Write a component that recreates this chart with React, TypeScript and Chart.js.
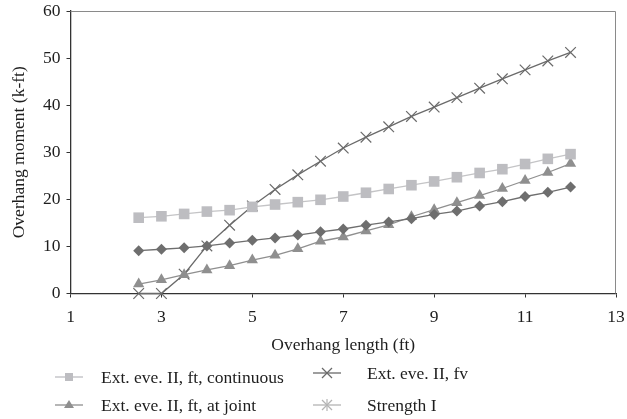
import React, { useEffect, useRef } from "react";
import { Chart, registerables } from "chart.js";

Chart.register(...registerables);

const overhangLength = [2.5, 3, 3.5, 4, 4.5, 5, 5.5, 6, 6.5, 7, 7.5, 8, 8.5, 9, 9.5, 10, 10.5, 11, 11.5, 12];
const continuousMoment = [16.1, 16.4, 16.9, 17.4, 17.7, 18.4, 18.9, 19.4, 19.9, 20.6, 21.4, 22.2, 23.0, 23.8, 24.7, 25.6, 26.4, 27.5, 28.6, 29.6];
const atJointMoment = [2.0, 2.9, 4.0, 5.0, 5.9, 7.1, 8.1, 9.5, 11.1, 12.0, 13.3, 14.6, 16.3, 17.8, 19.3, 20.8, 22.3, 24.0, 25.7, 27.6];
const fvMoment = [0, 0, 4.1, 10.1, 14.5, 18.6, 22.1, 25.2, 28.1, 30.9, 33.2, 35.4, 37.6, 39.6, 41.6, 43.6, 45.6, 47.5, 49.4, 51.2];
const diamondMoment = [9.1, 9.4, 9.7, 10.1, 10.7, 11.3, 11.8, 12.4, 13.1, 13.7, 14.5, 15.2, 15.9, 16.8, 17.5, 18.6, 19.5, 20.6, 21.5, 22.6];
const strengthIMoment: number[] = [];

const xTicks = [1, 3, 5, 7, 9, 11, 13];
const yTicks = [0, 10, 20, 30, 40, 50, 60];

const FONT = "'Liberation Serif', 'DejaVu Serif', serif";

const toPts = (ys: number[]) => ys.map((y, i) => ({ x: overhangLength[i], y }));

const frame = {
  id: "frame",
  beforeDatasetsDraw(chart: any) {
    const { ctx, chartArea } = chart;
    ctx.save();
    ctx.strokeStyle = "#8a8a8a";
    ctx.lineWidth = 1;
    ctx.beginPath();
    ctx.moveTo(chartArea.left, chartArea.top + 0.5);
    ctx.lineTo(chartArea.right - 0.5, chartArea.top + 0.5);
    ctx.lineTo(chartArea.right - 0.5, chartArea.bottom);
    ctx.stroke();
    ctx.restore();
  },
};

type LegendItem = { label: string; color: string; marker: string; x: number; y: number };
const legendItems: LegendItem[] = [
  { label: "Ext. eve. II, ft, continuous", color: "#bdbdc1", marker: "square", x: 55, y: 377 },
  { label: "Ext. eve. II, ft, at joint", color: "#8f8f8f", marker: "triangle", x: 55, y: 405 },
  { label: "Ext. eve. II, fv", color: "#6a6a6a", marker: "x", x: 313, y: 373 },
  { label: "Strength I", color: "#b4b4b4", marker: "star", x: 313, y: 405 },
];

function Marker({ kind, color }: { kind: string; color: string }) {
  const c = 14;
  let shape: any = null;
  if (kind === "square") shape = <rect x={c - 4} y={7 - 4} width={8} height={8} fill={color} />;
  if (kind === "triangle") shape = <polygon points={`${c},2 ${c + 5},10 ${c - 5},10`} fill={color} />;
  if (kind === "x")
    shape = (
      <g stroke={color} strokeWidth={1.2}>
        <line x1={c - 5} y1={2} x2={c + 5} y2={12} />
        <line x1={c - 5} y1={12} x2={c + 5} y2={2} />
      </g>
    );
  if (kind === "star")
    shape = (
      <g stroke={color} strokeWidth={1.2}>
        <line x1={c - 5} y1={2} x2={c + 5} y2={12} />
        <line x1={c - 5} y1={12} x2={c + 5} y2={2} />
        <line x1={c} y1={1} x2={c} y2={13} />
      </g>
    );
  return (
    <svg width={28} height={14} style={{ display: "block" }}>
      <line x1={0} y1={7} x2={28} y2={7} stroke={color} strokeWidth={1.3} />
      {shape}
    </svg>
  );
}

export default function App() {
  const ref = useRef<HTMLCanvasElement>(null);
  useEffect(() => {
    document.body.style.margin = "0";
    const chart = new Chart(ref.current!, {
      type: "line",
      data: {
        datasets: [
          {
            label: "Ext. eve. II, ft, continuous",
            data: toPts(continuousMoment),
            borderColor: "#c4c4c6",
            backgroundColor: "#bdbdc1",
            pointStyle: "rect",
            pointRadius: 7.5,
            pointBorderWidth: 0,
            borderWidth: 1.3,
            clip: false,
          },
          {
            label: "Service",
            data: toPts(diamondMoment),
            borderColor: "#6e6e6e",
            backgroundColor: "#6e6e6e",
            pointStyle: "rectRot",
            pointRadius: 5.5,
            pointBorderWidth: 0,
            borderWidth: 1.3,
            clip: false,
          },
          {
            label: "Ext. eve. II, ft, at joint",
            data: toPts(atJointMoment),
            borderColor: "#8f8f8f",
            backgroundColor: "#8f8f8f",
            pointStyle: "triangle",
            pointRadius: 6.5,
            pointBorderWidth: 0,
            borderWidth: 1.3,
            clip: false,
          },
          {
            label: "Ext. eve. II, fv",
            data: toPts(fvMoment),
            borderColor: "#6a6a6a",
            backgroundColor: "#6a6a6a",
            pointStyle: "crossRot",
            pointRadius: 7.5,
            pointBorderWidth: 1.2,
            borderWidth: 1.3,
            clip: false,
          },
          {
            label: "Strength I",
            data: toPts(strengthIMoment),
            borderColor: "#b4b4b4",
            backgroundColor: "#b4b4b4",
            pointStyle: "star",
            pointRadius: 6,
            borderWidth: 1.3,
            clip: false,
          },
        ],
      },
      options: {
        animation: false,
        responsive: false,
        maintainAspectRatio: false,
        layout: { padding: { top: 11, right: 11, bottom: 65, left: 9 } },
        plugins: { legend: { display: false }, tooltip: { enabled: false } },
        elements: { line: { tension: 0 } },
        scales: {
          x: {
            type: "linear",
            min: 1,
            max: 13,
            afterBuildTicks: (axis: any) => {
              axis.ticks = xTicks.map((v) => ({ value: v }));
            },
            afterFit: (axis: any) => {
              axis.paddingLeft = 0;
              axis.paddingRight = 0;
            },
            ticks: { color: "#1e1e1e", font: { family: FONT, size: 17.5 }, padding: 9 },
            grid: { drawOnChartArea: false, drawTicks: true, tickLength: 4, color: "#333" },
            border: { color: "#333", width: 1.3 },
            title: {
              display: true,
              text: "Overhang length (ft)",
              color: "#1e1e1e",
              font: { family: FONT, size: 17.5, lineHeight: 1 },
              padding: { top: 0, bottom: 0 },
            },
          },
          y: {
            type: "linear",
            min: 0,
            max: 60,
            afterBuildTicks: (axis: any) => {
              axis.ticks = yTicks.map((v) => ({ value: v }));
            },
            afterFit: (axis: any) => {
              axis.paddingTop = 0;
              axis.paddingBottom = 0;
            },
            ticks: { color: "#1e1e1e", font: { family: FONT, size: 17.5 }, padding: 6 },
            grid: { drawOnChartArea: false, drawTicks: true, tickLength: 4, color: "#333" },
            border: { color: "#333", width: 1.3 },
            title: {
              display: true,
              text: "Overhang moment (k-ft)",
              color: "#1e1e1e",
              font: { family: FONT, size: 17.5 },
              padding: { top: 0, bottom: 7 },
            },
          },
        },
      },
      plugins: [frame],
    });
    return () => chart.destroy();
  }, []);

  return (
    <div style={{ position: "absolute", left: 0, top: 0, width: 627, height: 419, background: "#fff" }}>
      <canvas ref={ref} width={627} height={419} style={{ display: "block" }} />
      {legendItems.map((it) => (
        <div
          key={it.label}
          style={{ position: "absolute", left: it.x, top: it.y - 11, height: 22, display: "flex", alignItems: "center" }}
        >
          <Marker kind={it.marker} color={it.color} />
          <span
            style={{
              marginLeft: it.x === 55 ? 18 : 26,
              fontFamily: FONT,
              fontSize: 17.5,
              color: "#1e1e1e",
              whiteSpace: "nowrap",
            }}
          >
            {it.label}
          </span>
        </div>
      ))}
    </div>
  );
}
